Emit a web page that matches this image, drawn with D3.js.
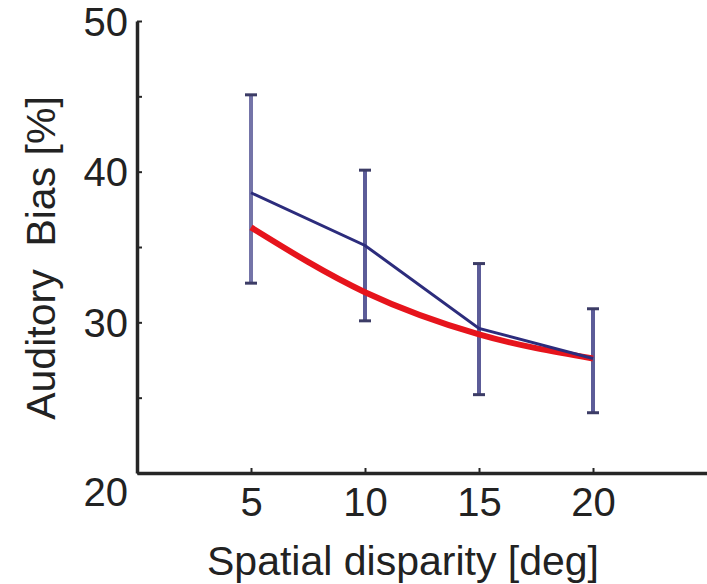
<!DOCTYPE html>
<html>
<head>
<meta charset="utf-8">
<script src="https://cdn.jsdelivr.net/npm/d3@7"></script>
<style>
  html, body { margin: 0; padding: 0; background: #fff; }
  svg { display: block; }
  text { font-family: "Liberation Sans", Arial, sans-serif; fill: #222; }
</style>
</head>
<body>
<svg id="chart" width="707" height="584"></svg>
<script>
// Spatial disparity conditions (deg)
const disparity = [5, 10, 15, 20];
// Measured auditory bias (%) with error-bar limits
const measured = [38.6, 35.1, 29.6, 27.6];
const measuredHigh = [45.1, 40.1, 33.9, 30.9];
const measuredLow = [32.6, 30.1, 25.2, 24.0];
// Model prediction (%)
const model = [36.3, 32.0, 29.2, 27.6];
// Axis ticks
const xTicks = [5, 10, 15, 20];
const yTicks = [20, 25, 30, 35, 40, 45, 50];
const yTickLabels = ["20", "", "30", "", "40", "", "50"];

const svg = d3.select("#chart");
const x = d3.scaleLinear().domain([0, 25]).range([137, 707]);
const y = d3.scaleLinear().domain([20, 50]).range([473, 21]);

const axisColor = "#262626";

// Y axis
const yAxis = d3.axisLeft(y).tickValues(yTicks).tickSizeInner(-5).tickSizeOuter(0)
  .tickFormat((d, i) => yTickLabels[i]).tickPadding(9);
const gy = svg.append("g").attr("transform", `translate(${x(0)},0)`).call(yAxis);
gy.select(".domain").attr("stroke", axisColor).attr("stroke-width", 3.5);
gy.selectAll(".tick line").attr("stroke", axisColor).attr("stroke-width", 2);
gy.selectAll(".tick text").style("font-size", "40px").attr("fill", "#222")
  .attr("dy", d => d === 20 ? "0.82em" : "0.35em");

// X axis
const xAxis = d3.axisBottom(x).tickValues(xTicks).tickSizeInner(-5).tickSizeOuter(0).tickPadding(15);
const gx = svg.append("g").attr("transform", `translate(0,${y(20)})`).call(xAxis);
gx.select(".domain").attr("stroke", axisColor).attr("stroke-width", 3.5);
gx.selectAll(".tick line").attr("stroke", axisColor).attr("stroke-width", 2);
gx.selectAll(".tick text").style("font-size", "40px").attr("fill", "#222").attr("dy", "0.71em");

// Axis titles
svg.append("text").attr("x", 403).attr("y", 575).attr("text-anchor", "middle")
  .style("font-size", "41px").text("Spatial disparity [deg]");
svg.append("text").attr("transform", "translate(55,258) rotate(-90)").attr("text-anchor", "middle")
  .attr("xml:space", "preserve").style("font-size", "41px").style("white-space", "pre")
  .text("Auditory  Bias [%]");

// Error bars of the measured bias
const eb = svg.append("g");
disparity.forEach((d, i) => {
  eb.append("line").attr("x1", x(d)).attr("x2", x(d))
    .attr("y1", y(measuredHigh[i])).attr("y2", y(measuredLow[i]))
    .attr("stroke", i === 0 ? "#7474a8" : "#5c5c98").attr("stroke-width", 4);
  [measuredHigh[i], measuredLow[i]].forEach(v => {
    eb.append("line").attr("x1", x(d) - 6).attr("x2", x(d) + 6)
      .attr("y1", y(v)).attr("y2", y(v))
      .attr("stroke", "#3c3c66").attr("stroke-width", 3);
  });
});

// Model curve
svg.append("path").datum(disparity.map((d, i) => [d, model[i]]))
  .attr("fill", "none").attr("stroke", "#e6141c").attr("stroke-width", 6)
  .attr("stroke-linejoin", "round")
  .attr("d", d3.line().x(p => x(p[0])).y(p => y(p[1])).curve(d3.curveMonotoneX));

// Measured bias line
svg.append("path").datum(disparity.map((d, i) => [d, measured[i]]))
  .attr("fill", "none").attr("stroke", "#2c2c7c").attr("stroke-width", 3)
  .attr("d", d3.line().x(p => x(p[0])).y(p => y(p[1])));
</script>
</body>
</html>
